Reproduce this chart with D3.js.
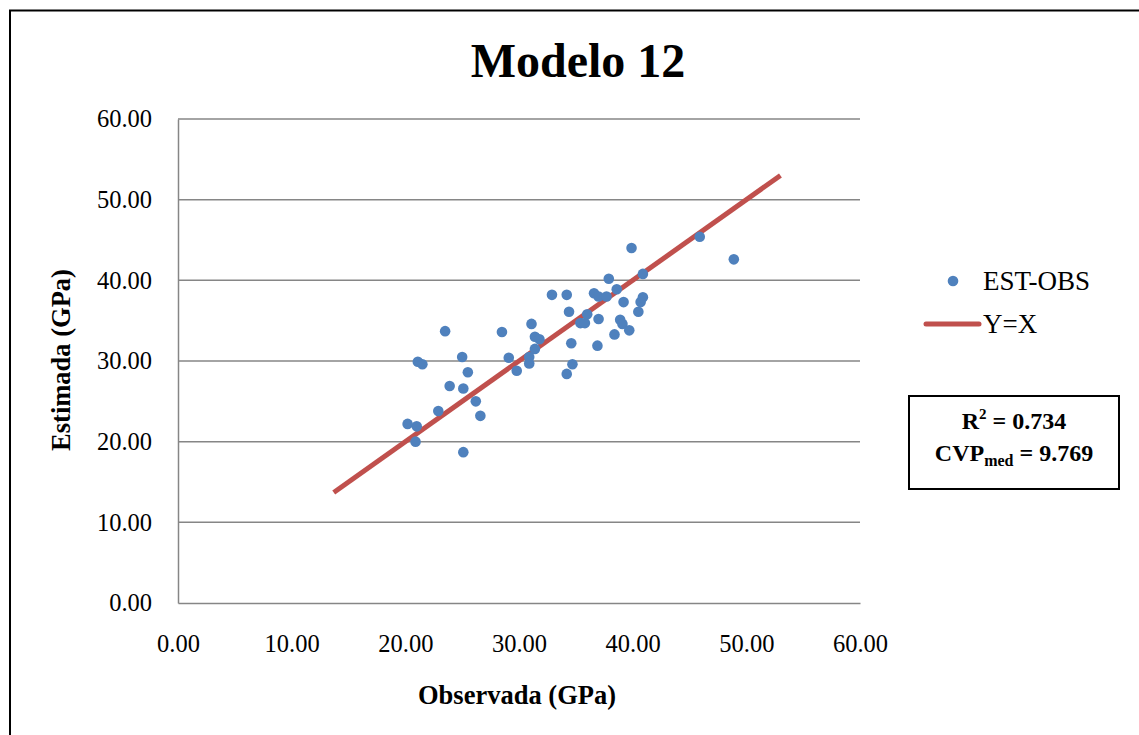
<!DOCTYPE html>
<html>
<head>
<meta charset="utf-8">
<script src="https://cdn.jsdelivr.net/npm/d3@7"></script>
<style>
  body { margin: 0; background: #fff; }
  text { font-family: "Liberation Serif", "Times New Roman", serif; }
</style>
</head>
<body>
<svg id="chart" width="1139" height="735"></svg>
<script>
'use strict';

var observada = [20.2, 21.0, 20.9, 21.1, 21.5, 23.5, 22.9, 23.9, 25.0, 25.1, 25.5, 25.1, 26.2,
  26.6, 28.5, 29.1, 29.8, 30.9, 30.9, 31.1, 31.4, 31.8, 31.4, 32.9, 34.2, 34.2, 34.4, 34.6,
  34.7, 35.4, 35.8, 36.0, 36.6, 37.0, 37.7, 37.0, 36.9, 37.9, 38.6, 38.4, 38.9, 39.1, 39.2,
  39.7, 39.9, 40.5, 40.7, 40.9, 40.9, 45.9, 48.9];
var estimada = [22.2, 21.9, 20.0, 29.9, 29.6, 33.7, 23.8, 26.9, 30.5, 26.6, 28.6, 18.7, 25.0,
  23.2, 33.6, 30.4, 28.8, 30.5, 29.7, 34.6, 33.0, 32.7, 31.5, 38.2, 38.2, 28.4, 36.1, 32.2,
  29.6, 34.7, 34.7, 35.8, 38.4, 38.0, 38.0, 35.2, 31.9, 40.2, 38.9, 33.3, 35.1, 34.6, 37.3,
  33.8, 44.0, 36.1, 37.3, 37.9, 40.8, 45.4, 42.6];
var lineaYX = [13.7, 53.0];
var ticks = [0, 10, 20, 30, 40, 50, 60];

var svg = d3.select('#chart');

// outer chart border (runs off the right and bottom of the picture)
svg.append('rect')
  .attr('x', 10).attr('y', 10.5)
  .attr('width', 1200).attr('height', 800)
  .attr('fill', 'none').attr('stroke', '#000').attr('stroke-width', 2);

var x = d3.scaleLinear().domain([0, 60]).range([178, 860]);
var y = d3.scaleLinear().domain([0, 60]).range([603, 119]);

// gridlines
svg.append('g').selectAll('line')
  .data(ticks.slice(1))
  .enter().append('line')
  .attr('x1', x(0)).attr('x2', x(60))
  .attr('y1', function(d){ return y(d); })
  .attr('y2', function(d){ return y(d); })
  .attr('stroke', '#868686').attr('stroke-width', 1.5);

// axes
var xAxis = svg.append('g').attr('transform', 'translate(0,' + y(0) + ')')
  .call(d3.axisBottom(x).tickValues(ticks).tickFormat(d3.format('.2f')).tickSize(0).tickPadding(32));
var yAxis = svg.append('g').attr('transform', 'translate(' + x(0) + ',0)')
  .call(d3.axisLeft(y).tickValues(ticks).tickFormat(d3.format('.2f')).tickSize(0).tickPadding(26));
[xAxis, yAxis].forEach(function(a){
  a.select('.domain').attr('stroke', '#868686').attr('stroke-width', 1.5);
  a.selectAll('text').attr('font-size', 24.5).attr('fill', '#000')
    .style('font-family', '"Liberation Serif", serif');
});

// Y=X reference line
svg.append('line')
  .attr('x1', x(lineaYX[0])).attr('y1', y(lineaYX[0]))
  .attr('x2', x(lineaYX[1])).attr('y2', y(lineaYX[1]))
  .attr('stroke', '#C0504D').attr('stroke-width', 5);

// points
svg.append('g').selectAll('circle')
  .data(d3.range(observada.length))
  .enter().append('circle')
  .attr('cx', function(i){ return x(observada[i]); })
  .attr('cy', function(i){ return y(estimada[i]); })
  .attr('r', 5.3)
  .attr('fill', '#4F81BD');

// title and axis titles
svg.append('text').attr('x', 578).attr('y', 77)
  .attr('text-anchor', 'middle').attr('font-size', 48).attr('font-weight', 'bold')
  .text('Modelo 12');
svg.append('text').attr('x', 517).attr('y', 704)
  .attr('text-anchor', 'middle').attr('font-size', 26.5).attr('font-weight', 'bold')
  .text('Observada (GPa)');
svg.append('text')
  .attr('transform', 'translate(70,360) rotate(-90)')
  .attr('text-anchor', 'middle').attr('font-size', 26.5).attr('font-weight', 'bold')
  .text('Estimada (GPa)');

// legend
svg.append('circle').attr('cx', 953).attr('cy', 281).attr('r', 5.3).attr('fill', '#4F81BD');
svg.append('text').attr('x', 983).attr('y', 290).attr('font-size', 27).text('EST-OBS');
svg.append('line').attr('x1', 926).attr('x2', 979).attr('y1', 324).attr('y2', 324)
  .attr('stroke', '#C0504D').attr('stroke-width', 5).attr('stroke-linecap', 'round');
svg.append('text').attr('x', 983).attr('y', 333).attr('font-size', 27).text('Y=X');

// stats box
svg.append('rect').attr('x', 909).attr('y', 396).attr('width', 210).attr('height', 93)
  .attr('fill', '#fff').attr('stroke', '#000').attr('stroke-width', 2);
var r2 = svg.append('text').attr('x', 1014).attr('y', 429)
  .attr('text-anchor', 'middle').attr('font-size', 24).attr('font-weight', 'bold');
r2.append('tspan').text('R');
r2.append('tspan').attr('font-size', 15).attr('dy', -10).text('2');
r2.append('tspan').attr('dy', 10).text(' = 0.734');
var cvp = svg.append('text').attr('x', 1014).attr('y', 461)
  .attr('text-anchor', 'middle').attr('font-size', 24).attr('font-weight', 'bold');
cvp.append('tspan').text('CVP');
cvp.append('tspan').attr('font-size', 16).attr('dy', 5).text('med');
cvp.append('tspan').attr('dy', -5).text(' = 9.769');
</script>
</body>
</html>
